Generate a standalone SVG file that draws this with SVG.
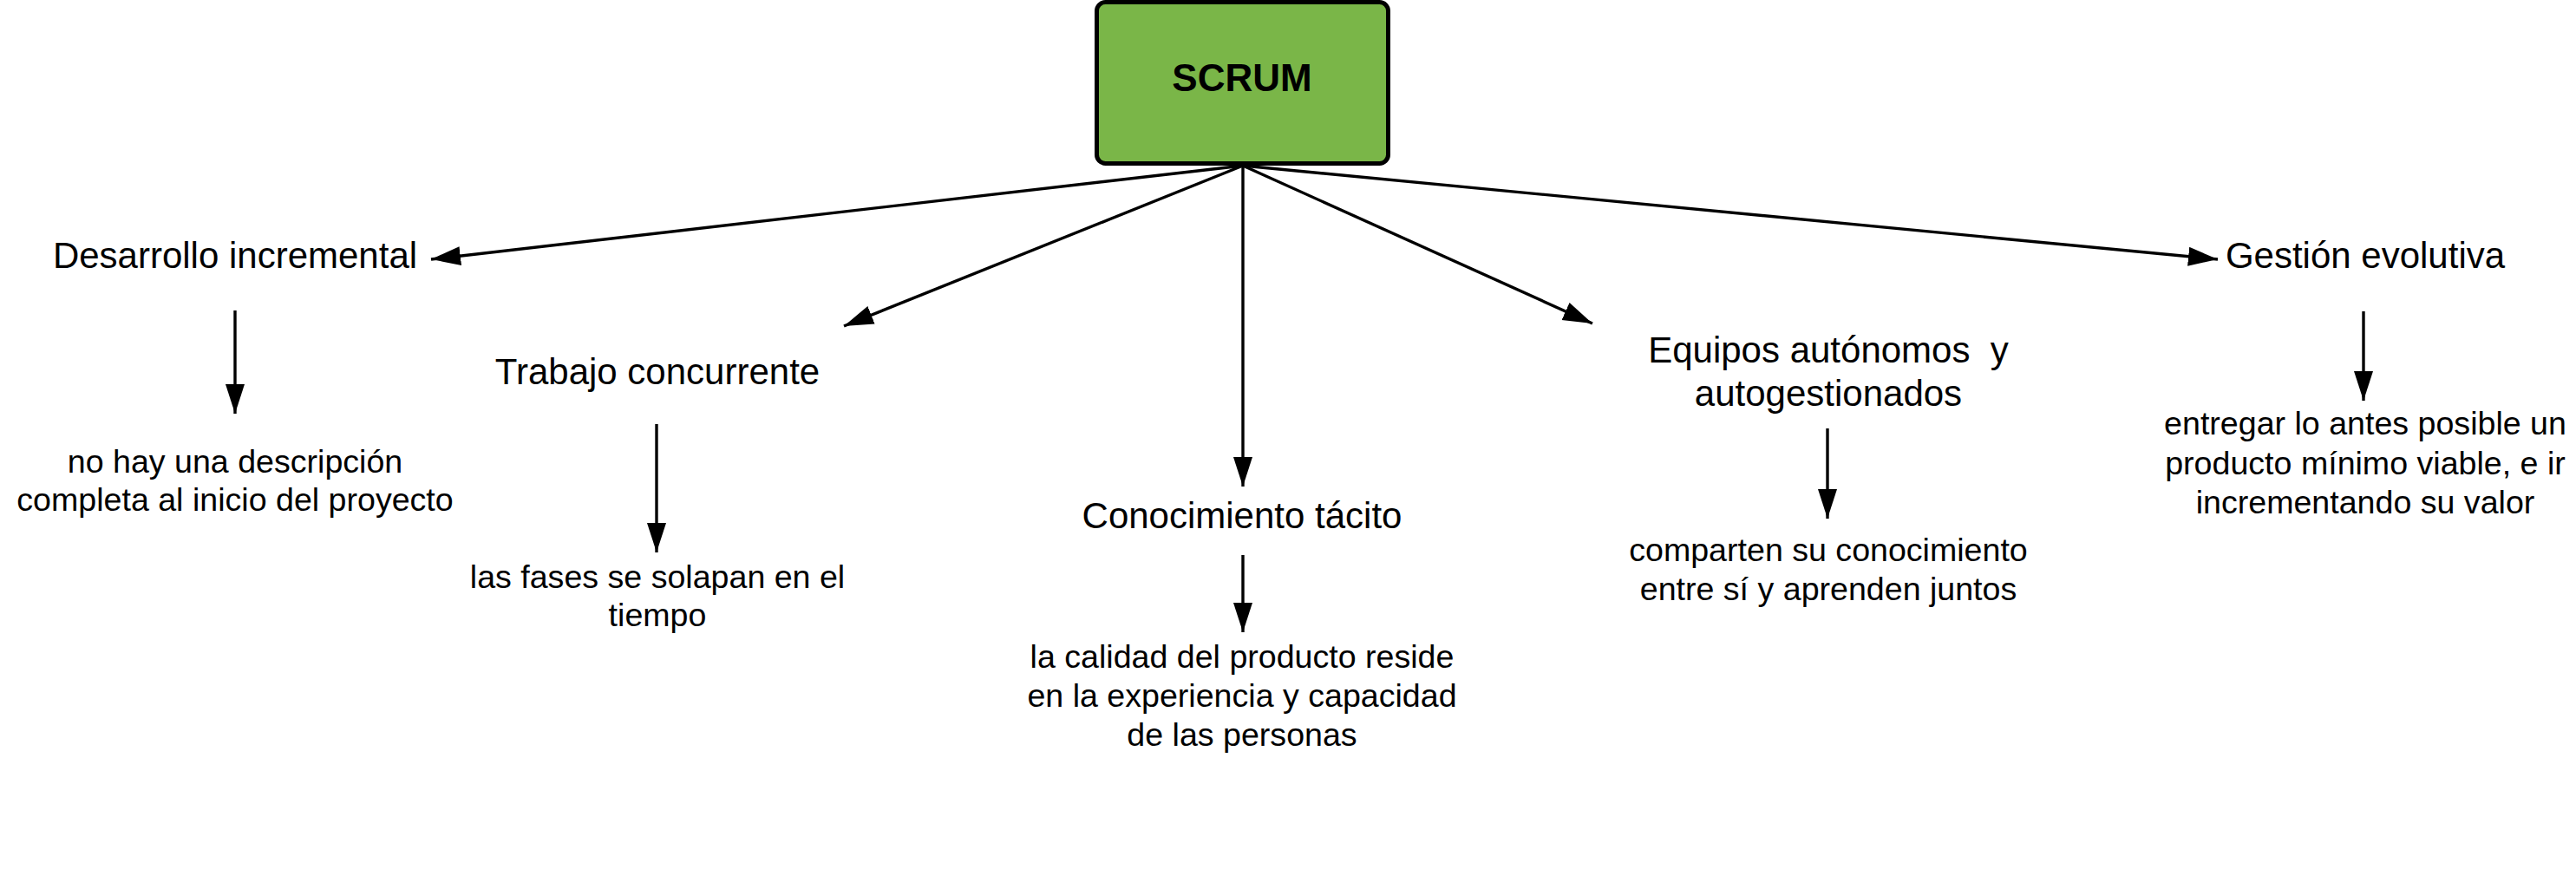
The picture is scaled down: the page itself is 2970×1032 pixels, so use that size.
<svg xmlns="http://www.w3.org/2000/svg" width="2970" height="1032" viewBox="0 0 2970 1032">
<style>
.t{font-family:"Liberation Sans",Arial,sans-serif;font-size:42px;fill:#000;text-anchor:middle}
.d{font-family:"Liberation Sans",Arial,sans-serif;font-size:37.6px;fill:#000;text-anchor:middle}
.c{stroke:#000;stroke-width:3.4;fill:none;marker-end:url(#ah)}
</style>
<defs>
<marker id="ah" markerUnits="userSpaceOnUse" markerWidth="36" markerHeight="24" refX="34" refY="11" orient="auto">
<path d="M0,0 L34,11 L0,22 Z" fill="#000"/>
</marker>
</defs>
<rect width="2970" height="1032" fill="#fff"/>
<g id="connectors">
<line class="c" x1="1433" y1="191" x2="497" y2="299"/>
<line class="c" x1="1433" y1="191" x2="973" y2="376"/>
<line class="c" x1="1433" y1="191" x2="1433" y2="561"/>
<line class="c" x1="1433" y1="191" x2="1836" y2="373"/>
<line class="c" x1="1433" y1="191" x2="2557" y2="299"/>
<line class="c" x1="271" y1="358" x2="271" y2="477"/>
<line class="c" x1="757" y1="489" x2="757" y2="637"/>
<line class="c" x1="1433" y1="640" x2="1433" y2="729"/>
<line class="c" x1="2107" y1="494" x2="2107" y2="598"/>
<line class="c" x1="2725" y1="359" x2="2725" y2="462"/>
</g>
<g id="scrum">
<rect x="1264.5" y="2.5" width="336" height="186" rx="10" fill="#7ab648" stroke="#000" stroke-width="5"/>
<text x="1432" y="105" font-family="Liberation Sans,Arial,sans-serif" font-size="44" font-weight="bold" text-anchor="middle">SCRUM</text>
</g>
<g id="desarrollo"><text class="t" x="271" y="309">Desarrollo incremental</text></g>
<g id="desarrollo-desc"><text class="d" x="271" y="545">no hay una descripción</text><text class="d" x="271" y="589">completa al inicio del proyecto</text></g>
<g id="trabajo"><text class="t" x="758" y="443">Trabajo concurrente</text></g>
<g id="trabajo-desc"><text class="d" x="758" y="678">las fases se solapan en el</text><text class="d" x="758" y="722">tiempo</text></g>
<g id="conocimiento"><text class="t" x="1432" y="609">Conocimiento tácito</text></g>
<g id="conocimiento-desc"><text class="d" x="1432" y="770">la calidad del producto reside</text><text class="d" x="1432" y="815">en la experiencia y capacidad</text><text class="d" x="1432" y="860">de las personas</text></g>
<g id="equipos"><text class="t" x="2108" y="418" xml:space="preserve">Equipos autónomos  y</text><text class="t" x="2108" y="468">autogestionados</text></g>
<g id="equipos-desc"><text class="d" x="2108" y="647">comparten su conocimiento</text><text class="d" x="2108" y="692">entre sí y aprenden juntos</text></g>
<g id="gestion"><text class="t" x="2727" y="309">Gestión evolutiva</text></g>
<g id="gestion-desc"><text class="d" x="2727" y="501">entregar lo antes posible un</text><text class="d" x="2727" y="547">producto mínimo viable, e ir</text><text class="d" x="2727" y="592">incrementando su valor</text></g>
</svg>
